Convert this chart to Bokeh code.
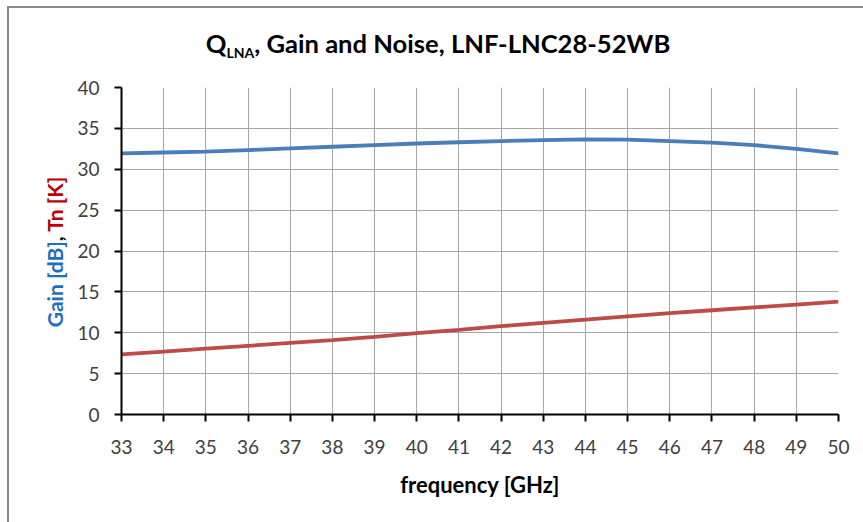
from bokeh.plotting import figure
from bokeh.models import Range1d, SingleIntervalTicker, Div
from bokeh.layouts import column, row
from bokeh.embed import file_html
from bokeh.resources import INLINE

freq_ghz = list(range(33, 51))
gain_db = [31.95, 32.05, 32.15, 32.35, 32.55, 32.75, 32.95, 33.15, 33.3,
           33.45, 33.57, 33.65, 33.62, 33.45, 33.25, 32.95, 32.5, 31.95]
tn_k = [7.35, 7.7, 8.05, 8.4, 8.75, 9.1, 9.5, 9.95, 10.35,
        10.8, 11.2, 11.6, 12.0, 12.4, 12.75, 13.1, 13.45, 13.8]

CW, CH = 854, 514
TH = 62
YW = 60
FONT = "Lato"

title_html = ("<div style=\"width:%dpx; text-align:center; padding-top:20px; font-family:Lato; "
              "font-weight:bold; font-size:25.6px; line-height:30px; color:black; "
              "white-space:nowrap; margin-left:2px;\">Q<sub style=\"font-size:14px; line-height:0; "
              "vertical-align:-5px;\">LNA</sub>, Gain and Noise, LNF-LNC28-52WB</div>") % CW
ylabel_html = ("<div style=\"width:200px; height:24px; line-height:24px; text-align:center; "
               "font-family:Lato; font-weight:bold; font-size:21px; white-space:nowrap; "
               "transform: translate(-54px, 170px) rotate(-90deg);\">"
               "<span style=\"color:#1f6fbf\">Gain [dB]</span>, "
               "<span style=\"color:#c00000\">Tn [K]</span></div>")

title_div = Div(text=title_html, width=CW, height=TH, margin=0,
                styles={"overflow": "visible"})
ylab_div = Div(text=ylabel_html, width=YW, height=CH - TH, margin=0,
               styles={"overflow": "visible"})

p = figure(width=CW - YW, height=CH - TH, output_backend="svg", toolbar_location=None,
           x_range=Range1d(33, 50), y_range=Range1d(0, 40),
           min_border_left=52, min_border_right=25, min_border_top=17,
           min_border_bottom=108)
p.title.visible = False
p.outline_line_color = None

p.line(freq_ghz, gain_db, line_color="#4a7ebb", line_width=3.8)
p.line(freq_ghz, tn_k, line_color="#be4b48", line_width=3.8)

p.xaxis.ticker = SingleIntervalTicker(interval=1)
p.yaxis.ticker = SingleIntervalTicker(interval=5)
for ax in (p.xaxis, p.yaxis):
    ax.axis_line_color = "black"
    ax.axis_line_width = 2
    ax.major_tick_line_color = "black"
    ax.major_tick_line_width = 2
    ax.major_tick_out = 7
    ax.major_tick_in = 0
    ax.minor_tick_line_color = None
    ax.major_label_text_font = FONT
    ax.major_label_text_font_size = "19px"
    ax.major_label_text_color = "#404040"
p.xaxis.major_label_standoff = 18
p.yaxis.major_label_standoff = 15
p.xaxis.axis_label = "frequency [GHz]"
p.xaxis.axis_label_text_font = FONT
p.xaxis.axis_label_text_font_style = "bold"
p.xaxis.axis_label_text_font_size = "22px"
p.xaxis.axis_label_text_color = "black"
p.xaxis.axis_label_standoff = 14

p.xgrid.grid_line_color = "#a6a6a6"
p.ygrid.grid_line_color = "#a6a6a6"

layout = column(title_div, row(ylab_div, p, spacing=0), spacing=0, styles={
    "border-left": "2px solid #8a8a8a", "border-top": "2px solid #8a8a8a",
    "margin-left": "7px", "margin-top": "6px"})

open("out.html", "w").write(file_html(layout, INLINE))
